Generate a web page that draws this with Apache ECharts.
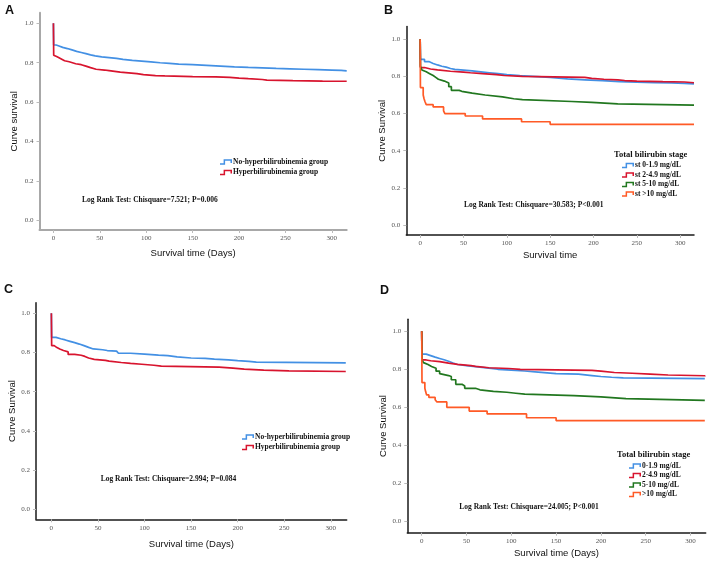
<!DOCTYPE html>
<html>
<head>
<meta charset="utf-8">
<script src="https://cdn.jsdelivr.net/npm/echarts@6/dist/echarts.min.js"></script>
<style>
html, body { margin: 0; padding: 0; background: #fff; }
#chart { width: 708px; height: 561px; }
</style>
</head>
<body>
<div id="chart"></div>
<script>
// axis ticks
const dayTicks = [0, 50, 100, 150, 200, 250, 300]
const survTicks = [0, 0.2, 0.4, 0.6, 0.8, 1.0]

// A: bilirubin groups, [day, survival]
const aNoHyper = [[0,1],[0.3,0.89],[3,0.885],[6,0.878],[10,0.872],[15,0.865],[20,0.858],[25,0.852],[30,0.846],[35,0.84],[40,0.835],[45,0.83],[52,0.826],[60,0.822],[68,0.817],[75,0.812],[85,0.808],[95,0.804],[105,0.8],[115,0.797],[125,0.793],[135,0.79],[150,0.787],[165,0.783],[180,0.779],[195,0.776],[210,0.774],[225,0.771],[240,0.769],[255,0.767],[270,0.765],[285,0.763],[300,0.761],[310,0.759],[316,0.759]]
const aHyper = [[0,1],[0.3,0.838],[2,0.83],[4,0.82],[8,0.81],[12,0.805],[17,0.795],[24,0.79],[30,0.783],[35,0.775],[40,0.767],[46,0.763],[55,0.76],[60,0.752],[72,0.75],[78,0.745],[90,0.74],[97,0.735],[110,0.733],[120,0.73],[150,0.728],[175,0.726],[190,0.722],[200,0.719],[210,0.715],[225,0.712],[230,0.709],[258,0.707],[290,0.706],[316,0.705]]

// B: total bilirubin stage
const bStage1 = [[0,1],[0.3,0.892],[5,0.88],[10,0.87],[15,0.862],[20,0.855],[25,0.85],[30,0.843],[35,0.838],[40,0.834],[50,0.83],[60,0.825],[70,0.82],[80,0.815],[90,0.81],[100,0.804],[115,0.8],[130,0.795],[150,0.787],[170,0.782],[190,0.777],[210,0.772],[230,0.769],[250,0.767],[270,0.765],[290,0.763],[305,0.76],[316,0.758]]
const bStage2 = [[0,1],[0.3,0.848],[5,0.84],[12,0.835],[20,0.828],[35,0.823],[50,0.82],[58,0.815],[72,0.81],[88,0.805],[97,0.8],[118,0.795],[190,0.79],[198,0.785],[212,0.782],[228,0.778],[236,0.775],[250,0.772],[280,0.77],[305,0.766],[316,0.765]]
const bStage3 = [[0,1],[0.3,0.855],[2,0.835],[4,0.825],[7,0.815],[11,0.805],[15,0.795],[18,0.785],[21,0.775],[28,0.765],[33,0.745],[36,0.725],[45,0.72],[48,0.71],[60,0.7],[75,0.69],[95,0.68],[108,0.675],[118,0.665],[175,0.66],[198,0.652],[228,0.645],[316,0.645]]
const bStage4 = [[0,1],[0.3,0.74],[3.5,0.7],[4.5,0.68],[5.5,0.665],[7,0.648],[15,0.636],[27,0.615],[28.5,0.6],[52,0.587],[72,0.571],[117,0.556],[150,0.542],[316,0.542]]

// C
const cNoHyper = [[0,1],[0.3,0.877],[5,0.87],[10,0.864],[15,0.857],[20,0.85],[25,0.843],[30,0.835],[35,0.826],[40,0.818],[45,0.814],[55,0.81],[60,0.807],[70,0.804],[72,0.796],[85,0.792],[100,0.787],[115,0.784],[125,0.778],[135,0.772],[150,0.77],[165,0.766],[175,0.762],[190,0.758],[200,0.755],[212,0.751],[220,0.747],[316,0.745]]
const cHyper = [[0,1],[0.3,0.835],[3,0.825],[6,0.818],[9,0.81],[13,0.803],[18,0.79],[25,0.786],[32,0.78],[36,0.772],[40,0.765],[46,0.76],[58,0.756],[62,0.749],[75,0.744],[85,0.74],[97,0.735],[110,0.73],[118,0.725],[180,0.72],[195,0.715],[207,0.71],[228,0.706],[255,0.703],[316,0.7]]

// D
const dStage1 = [[0,1],[0.3,0.88],[5,0.872],[10,0.864],[15,0.857],[20,0.85],[25,0.842],[30,0.833],[35,0.825],[40,0.819],[50,0.814],[60,0.809],[70,0.8],[85,0.796],[100,0.791],[115,0.785],[130,0.777],[150,0.774],[175,0.767],[190,0.762],[200,0.758],[212,0.755],[225,0.751],[316,0.75]]
const dStage2 = [[0,1],[0.3,0.849],[5,0.845],[10,0.84],[20,0.832],[30,0.826],[40,0.819],[55,0.815],[60,0.808],[75,0.804],[97,0.8],[110,0.794],[190,0.79],[200,0.783],[215,0.779],[235,0.775],[255,0.77],[275,0.766],[316,0.762]]
const dStage3 = [[0,1],[0.3,0.849],[2,0.835],[4,0.825],[7,0.815],[11,0.805],[16,0.79],[20,0.777],[22,0.767],[30,0.762],[33,0.745],[38,0.721],[45,0.712],[48,0.7],[60,0.692],[65,0.684],[80,0.679],[95,0.674],[105,0.669],[115,0.661],[170,0.655],[200,0.646],[228,0.636],[316,0.636]]
const dStage4 = [[0,1],[0.3,0.73],[3.5,0.7],[4.5,0.68],[5.5,0.665],[8,0.652],[15,0.64],[17,0.628],[28,0.6],[53,0.58],[73,0.565],[117,0.545],[150,0.53],[316,0.53]]

const BLUE = '#4390e4'
const RED = '#d8142e'
const GREEN = '#21771f'
const ORANGE = '#ff5a26'

const SERIF = '"Liberation Serif", "DejaVu Serif", serif'
const SANS = '"Liberation Sans", Arial, sans-serif'

// step icon for the legend (filled outline, so it reads as a thick line)
const stepIcon = 'path://M0,14 L12,14 L12,0 L40,0 L40,13 L35,13 L35,5 L17,5 L17,19 L0,19 Z'

const panels = [
  { grid: { left: 39.5, top: 12.7, width: 307.2, height: 217.3 }, x: [-15, 316], y: [-0.049, 1.054],
    axisColor: '#a8a8a8', axisWidth: 2, xName: 'Survival time (Days)', yName: 'Curve survival', xGap: 18, yGap: 20 },
  { grid: { left: 406.3, top: 26.5, width: 287.7, height: 208.5 }, x: [-16, 316], y: [-0.054, 1.069],
    axisColor: '#1a1a1a', axisWidth: 1.5, xName: 'Survival time', yName: 'Curve Survival', xGap: 15, yGap: 18 },
  { grid: { left: 36, top: 302.7, width: 310.7, height: 216.6 }, x: [-16.5, 317], y: [-0.051, 1.054],
    axisColor: '#1a1a1a', axisWidth: 1.5, xName: 'Survival time (Days)', yName: 'Curve Survival', xGap: 20, yGap: 19 },
  { grid: { left: 407.3, top: 319.3, width: 298.4, height: 213.4 }, x: [-16.1, 317], y: [-0.06, 1.063],
    axisColor: '#1a1a1a', axisWidth: 1.5, xName: 'Survival time (Days)', yName: 'Curve Survival', xGap: 16, yGap: 19 }
]

const tickStyle = { show: true, length: 3, lineStyle: { color: '#bbb', width: 1 } }
const labelStyle = { fontFamily: SERIF, fontSize: 7, color: '#555' }
const nameStyle = { fontFamily: SANS, fontSize: 9.5, color: '#111' }

const grids = panels.map(p => Object.assign({ containLabel: false }, p.grid))
const xAxes = panels.map((p, i) => ({
  type: 'value', gridIndex: i, min: p.x[0], max: p.x[1],
  name: p.xName, nameLocation: 'middle', nameGap: p.xGap, nameTextStyle: nameStyle,
  splitLine: { show: false },
  axisLine: { show: true, onZero: false, lineStyle: { color: p.axisColor, width: p.axisWidth } },
  axisTick: Object.assign({ customValues: dayTicks }, tickStyle),
  axisLabel: Object.assign({ customValues: dayTicks, margin: 5 }, labelStyle)
}))
const yAxes = panels.map((p, i) => ({
  type: 'value', gridIndex: i, min: p.y[0], max: p.y[1],
  name: p.yName, nameLocation: 'middle', nameGap: p.yGap, nameTextStyle: nameStyle,
  splitLine: { show: false },
  axisLine: { show: true, onZero: false, lineStyle: { color: p.axisColor, width: p.axisWidth } },
  axisTick: Object.assign({ customValues: survTicks }, tickStyle),
  axisLabel: Object.assign({ customValues: survTicks, margin: 6, formatter: v => v.toFixed(1) }, labelStyle)
}))

const km = (name, data, color, idx) => ({
  name, type: 'line', data, step: 'end', xAxisIndex: idx, yAxisIndex: idx,
  showSymbol: false, symbol: 'none', silent: true, animation: false,
  itemStyle: { color }, lineStyle: { color, width: 1.7 }
})

const series = [
  km('No-hyperbilirubinemia group', aNoHyper, BLUE, 0),
  km('Hyperbilirubinemia group', aHyper, RED, 0),
  km('st 0-1.9 mg/dL', bStage1, BLUE, 1),
  km('st 2-4.9 mg/dL', bStage2, RED, 1),
  km('st 5-10 mg/dL', bStage3, GREEN, 1),
  km('st >10 mg/dL', bStage4, ORANGE, 1),
  km('No-hyperbilirubinemia group', cNoHyper, BLUE, 2),
  km('Hyperbilirubinemia group', cHyper, RED, 2),
  km('0-1.9 mg/dL', dStage1, BLUE, 3),
  km('2-4.9 mg/dL', dStage2, RED, 3),
  km('5-10 mg/dL', dStage3, GREEN, 3),
  km('>10 mg/dL', dStage4, ORANGE, 3)
]

const legendBase = {
  orient: 'vertical', icon: stepIcon, itemWidth: 12, itemHeight: 6, itemGap: 2.5,
  padding: 0, selectedMode: false, itemStyle: { borderWidth: 0 },
  textStyle: { fontFamily: SERIF, fontSize: 7.5, fontWeight: 'bold', color: '#111', padding: [0, 0, 0, -4] }
}
const legends = [
  Object.assign({}, legendBase, { left: 220, top: 158, data: ['No-hyperbilirubinemia group', 'Hyperbilirubinemia group'] }),
  Object.assign({}, legendBase, { left: 622, top: 161.5, itemGap: 1.5, data: ['st 0-1.9 mg/dL', 'st 2-4.9 mg/dL', 'st 5-10 mg/dL', 'st >10 mg/dL'] }),
  Object.assign({}, legendBase, { left: 242, top: 433, data: ['No-hyperbilirubinemia group', 'Hyperbilirubinemia group'] }),
  Object.assign({}, legendBase, { left: 629, top: 462, itemGap: 1.5, data: ['0-1.9 mg/dL', '2-4.9 mg/dL', '5-10 mg/dL', '>10 mg/dL'] })
]

const letter = (text, left, top) => ({ text, left, top, padding: 0, textStyle: { fontFamily: SANS, fontSize: 12.5, fontWeight: 'bold', color: '#111' } })
const note = (text, left, top) => ({ text, left, top, padding: 0, textStyle: { fontFamily: SERIF, fontSize: 7.5, fontWeight: 'bold', color: '#111' } })

const titles = [
  letter('A', 5, 4), letter('B', 384, 4), letter('C', 4, 283), letter('D', 380, 284),
  note('Log Rank Test: Chisquare=7.521; P=0.006', 82, 196),
  note('Log Rank Test: Chisquare=30.583; P<0.001', 464, 201.5),
  note('Log Rank Test: Chisquare=2.994; P=0.084', 100.7, 475),
  note('Log Rank Test: Chisquare=24.005; P<0.001', 459.3, 503.5),
  note('Total bilirubin stage', 614, 150.5),
  note('Total bilirubin stage', 617, 450.5)
]
titles[8].textStyle.fontSize = 8.5
titles[9].textStyle.fontSize = 8.5

const chart = echarts.init(document.getElementById('chart'))
chart.setOption({
  animation: false,
  backgroundColor: '#fff',
  title: titles,
  legend: legends,
  grid: grids,
  xAxis: xAxes,
  yAxis: yAxes,
  series
})
</script>
</body>
</html>
